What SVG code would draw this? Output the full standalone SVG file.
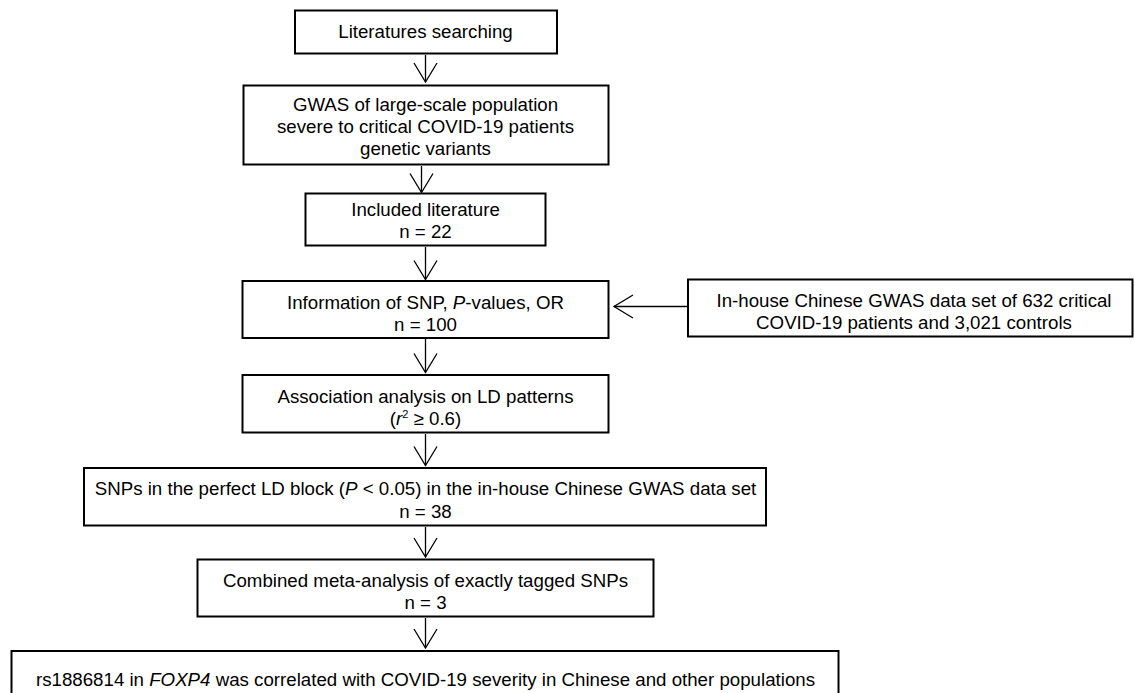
<svg xmlns="http://www.w3.org/2000/svg" width="1134" height="693" viewBox="0 0 1134 693">
<defs>
<style>
.box{fill:#fff;stroke:#000;stroke-width:2}
.t{font-family:"Liberation Sans",Arial,sans-serif;font-size:18.7px;fill:#000;text-anchor:middle}
.i{font-style:italic}
.c{stroke:#000;stroke-width:1.3;fill:none}
</style>
<marker id="v" markerUnits="userSpaceOnUse" viewBox="-21 -13 23 26" refX="0" refY="0" markerWidth="23" markerHeight="26" orient="auto" overflow="visible">
<path d="M-19,-11.5 L0,0 L-19,11.5" fill="none" stroke="#000" stroke-width="1.3"/>
</marker>
</defs>
<rect width="1134" height="693" fill="#fff"/>
<g id="connectors">
<path class="c" d="M425.5,55 V82" marker-end="url(#v)"/>
<path class="c" d="M421.5,166 V192.5" marker-end="url(#v)"/>
<path class="c" d="M425.5,247 V279.5" marker-end="url(#v)"/>
<path class="c" d="M425.5,339 V372.5" marker-end="url(#v)"/>
<path class="c" d="M425.5,434 V465.5" marker-end="url(#v)"/>
<path class="c" d="M425.5,527 V557" marker-end="url(#v)"/>
<path class="c" d="M425.5,618 V648" marker-end="url(#v)"/>
<path class="c" d="M688,306.5 H614" marker-end="url(#v)"/>
</g>
<g id="n1"><rect class="box" x="295" y="10.5" width="262" height="43"/>
<text class="t" x="425.5" y="38">Literatures searching</text></g>
<g id="n2"><rect class="box" x="243.5" y="85.5" width="365" height="79"/>
<text class="t" x="425.5" y="111">GWAS of large-scale population</text>
<text class="t" x="425.5" y="133">severe to critical COVID-19 patients</text>
<text class="t" x="425.5" y="155">genetic variants</text></g>
<g id="n3"><rect class="box" x="305.5" y="193.5" width="240" height="52"/>
<text class="t" x="425.5" y="216">Included literature</text>
<text class="t" x="425.5" y="238">n = 22</text></g>
<g id="n4"><rect class="box" x="242.5" y="281" width="366" height="57"/>
<text class="t" x="425.5" y="309">Information of SNP, <tspan class="i">P</tspan>-values, OR</text>
<text class="t" x="425.5" y="331">n = 100</text></g>
<g id="n5"><rect class="box" x="688" y="279.5" width="444.5" height="57"/>
<text class="t" x="914" y="306.5">In-house Chinese GWAS data set of 632 critical</text>
<text class="t" x="914" y="328.5">COVID-19 patients and 3,021 controls</text></g>
<g id="n6"><rect class="box" x="242.5" y="375" width="366" height="57.5"/>
<text class="t" x="425.5" y="402.5">Association analysis on LD patterns</text>
<text class="t" x="425.5" y="425">(<tspan class="i">r</tspan><tspan font-size="11" dy="-7">2</tspan><tspan dy="7"> ≥ 0.6)</tspan></text></g>
<g id="n7"><rect class="box" x="84" y="468" width="682" height="57.5"/>
<text class="t" x="425.5" y="495">SNPs in the perfect LD block (<tspan class="i">P</tspan> &lt; 0.05) in the in-house Chinese GWAS data set</text>
<text class="t" x="425.5" y="517.5">n = 38</text></g>
<g id="n8"><rect class="box" x="197.5" y="559.5" width="456" height="57"/>
<text class="t" x="425.5" y="586.5">Combined meta-analysis of exactly tagged SNPs</text>
<text class="t" x="425.5" y="609">n = 3</text></g>
<g id="n9"><rect class="box" x="11.5" y="651" width="827" height="60"/>
<text class="t" x="425.5" y="686">rs1886814 in <tspan class="i">FOXP4</tspan> was correlated with COVID-19 severity in Chinese and other populations</text></g>
</svg>
